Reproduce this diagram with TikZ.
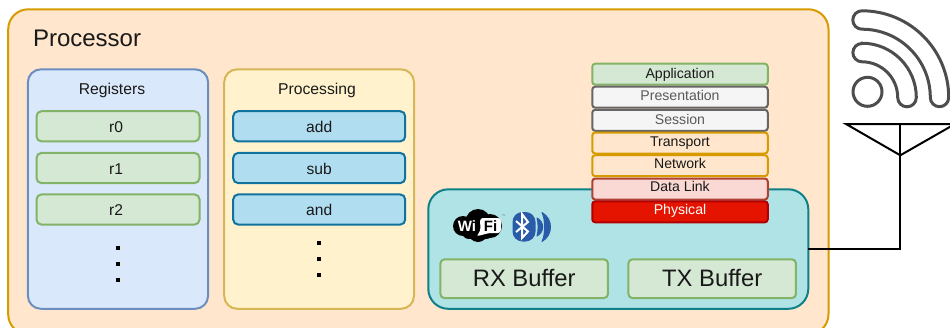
\documentclass[tikz,border=0pt]{standalone}
\usepackage{fontspec}
\setmainfont{Liberation Sans}
\definecolor{procfill}{HTML}{FFE6CC}
\definecolor{procline}{HTML}{D79B00}
\definecolor{regfill}{HTML}{DAE8FC}
\definecolor{regline}{HTML}{6C8EBF}
\definecolor{grfill}{HTML}{D5E8D4}
\definecolor{grline}{HTML}{82B366}
\definecolor{yefill}{HTML}{FFF2CC}
\definecolor{yeline}{HTML}{D6B656}
\definecolor{blfill}{HTML}{B1DDF0}
\definecolor{blline}{HTML}{10739E}
\definecolor{tefill}{HTML}{B0E3E6}
\definecolor{teline}{HTML}{0E8088}
\definecolor{gyfill}{HTML}{F5F5F5}
\definecolor{gyline}{HTML}{666666}
\definecolor{dlfill}{HTML}{FAD9D5}
\definecolor{dlline}{HTML}{AE4132}
\definecolor{phfill}{HTML}{E51400}
\definecolor{phline}{HTML}{B20000}
\definecolor{sigline}{HTML}{4D4D4D}
\definecolor{btblue}{HTML}{2A5BA8}
\tikzset{
  x=1pt,y=1pt,
  base/.style={draw,line width=2pt,rectangle,inner sep=0pt,outer sep=0pt,text=black!90},
  panel/.style={base,rounded corners=13pt,anchor=north west},
  item/.style={base,rounded corners=5pt,font=\fontsize{15.6}{15.6}\selectfont,text height=12pt,text depth=0pt,minimum height=30.2pt},
  regitem/.style={item,fill=grfill,draw=grline,minimum width=163pt},
  opitem/.style={item,fill=blfill,draw=blline,minimum width=172pt},
  buffer/.style={base,rounded corners=4pt,fill=grfill,draw=grline,font=\fontsize{23.8}{23.8}\selectfont,text height=15.8pt,text depth=0pt,minimum width=167.5pt,minimum height=38.7pt},
  osi/.style={base,rounded corners=3pt,font=\fontsize{14.1}{14.1}\selectfont,text height=6.4pt,text depth=0pt,minimum width=175.5pt,minimum height=21pt},
  dotmark/.style={fill=black,draw=none,rectangle,minimum size=4pt,inner sep=0pt},
  caption/.style={inner sep=0pt,outer sep=0pt,text=black!90},
  sig/.style={draw=sigline,line width=3pt},
  wire/.style={draw=black,line width=2pt}
}
\begin{document}
\begin{tikzpicture}
\clip (0,0) rectangle (950,-327);
% processor
\node[panel,fill=procfill,draw=procline,rounded corners=20pt,minimum width=820.3pt,minimum height=325pt] (proc) at (8.2,-9.3) {};
\node[caption,font=\fontsize{24}{24}\selectfont,anchor=base west] (proct) at (33,-46.3) {Processor};
% registers
\node[panel,fill=regfill,draw=regline,minimum width=180.2pt,minimum height=239.5pt] (regs) at (27.9,-69.3) {};
\node[caption,font=\fontsize{15.7}{15.7}\selectfont,anchor=base] (regt) at (112,-94.3) {Registers};
\node[regitem] (r0) at (118,-126.3) {r0\hspace*{4pt}};
\node[regitem] (r1) at (118,-168) {r1\hspace*{4pt}};
\node[regitem] (r2) at (118,-209.5) {r2\hspace*{4pt}};
\node[dotmark] (rd0) at (118,-247.7) {};
\node[dotmark] (rd1) at (118,-263.7) {};
\node[dotmark] (rd2) at (118,-279.7) {};
% processing
\node[panel,fill=yefill,draw=yeline,minimum width=189.8pt,minimum height=239.5pt] (pros) at (224.2,-69.3) {};
\node[caption,font=\fontsize{15.7}{15.7}\selectfont,anchor=base] (prost) at (317,-94.3) {Processing};
\node[opitem] (add) at (319.2,-126.3) {add};
\node[opitem] (sub) at (319.2,-168) {sub};
\node[opitem] (and) at (319.2,-209.5) {and};
\node[dotmark] (pd0) at (319,-243.3) {};
\node[dotmark] (pd1) at (319,-259.3) {};
\node[dotmark] (pd2) at (319,-275.3) {};
% network card
\node[panel,fill=tefill,draw=teline,rounded corners=20pt,minimum width=380pt,minimum height=119.5pt] (nic) at (428.3,-189.3) {};
\node[buffer] (rx) at (524.2,-278.7) {RX Buffer};
\node[buffer] (tx) at (712.2,-278.7) {TX Buffer};
% OSI
\node[osi,fill=grfill,draw=grline,text height=7.8pt] (l7) at (680,-74.2) {Application};
\node[osi,fill=gyfill,draw=gyline,text=black!65,text height=5.6pt] (l6) at (680,-97.2) {Presentation};
\node[osi,fill=gyfill,draw=gyline,text=black!65,text height=7.4pt] (l5) at (680,-120.3) {Session};
\node[osi,fill=procfill,draw=procline,text height=7.4pt] (l4) at (680,-143) {Transport};
\node[osi,fill=procfill,draw=procline,text height=5.2pt] (l3) at (680,-165.7) {Network};
\node[osi,fill=dlfill,draw=dlline,text height=5.4pt] (l2) at (680,-189) {Data Link};
\node[osi,fill=phfill,draw=phline,text=white,text height=5pt] (l1) at (680,-211.8) {Physical};
% wifi logo
\fill[black] (463,-226) circle[radius=10] (478,-221.5) circle[radius=12.5] (478,-232) circle[radius=10] (490,-226) circle[radius=12] (469,-232) circle[radius=7] (486,-232) circle[radius=7];
\fill[white,rounded corners=3pt] (480,-218) -- (501,-218) -- (501,-233) -- (489,-233) -- (476,-236.5) -- (480.5,-231) -- cycle;
\node[caption,text=white,font=\bfseries\fontsize{15}{15}\selectfont,anchor=base] (wi) at (467,-231) {Wi};
\node[caption,text=black,font=\bfseries\fontsize{15}{15}\selectfont,anchor=base] (fi) at (490.5,-231) {Fi};
\node[caption,text=black!50,font=\fontsize{4}{4}\selectfont] (tm) at (503.5,-216.5) {™};
% bluetooth logo
\fill[btblue,rounded corners=10pt] (512.5,-212) rectangle (535.5,-241.5);
\draw[white,line width=2pt,line join=miter] (516,-221) -- (528,-231.5) -- (522,-238) -- (522,-214) -- (528,-222) -- (516,-232);
\filldraw[btblue,line width=1pt,line join=round] (537,-218) .. controls (544.5,-222) and (544.5,-232) .. (537,-236) .. controls (538.5,-232) and (538.5,-222) .. (537,-218) -- cycle;
\filldraw[btblue,line width=1pt,line join=round] (542,-212.5) .. controls (553.3,-219) and (553.3,-235) .. (542,-241.5) .. controls (545.5,-235) and (545.5,-219) .. (542,-212.5) -- cycle;
% signal icon
\draw[sig] (867.5,-91.8) circle[radius=14.5];
\draw[sig] (862,-10.8) arc[start angle=90,end angle=0,radius=86.7]
  arc[start angle=0,end angle=-180,radius=9.2]
  arc[start angle=0,end angle=90,radius=68.3]
  arc[start angle=270,end angle=90,radius=9.2] -- cycle;
\draw[sig] (862,-43.2) arc[start angle=90,end angle=0,radius=54.3]
  arc[start angle=0,end angle=-180,radius=9.3]
  arc[start angle=0,end angle=90,radius=35.7]
  arc[start angle=270,end angle=90,radius=9.15] -- cycle;
% antenna
\coordinate (ant) at (900.3,-155.3);
\coordinate (antl) at (846,-124);
\coordinate (antr) at (955,-124);
\coordinate (antt) at (900.3,-124);
\coordinate (elbow) at (900.3,-248.7);
\draw[wire] (antl) -- (antr) -- (ant) -- cycle;
\draw[wire] (antt) -- (ant);
\draw[wire] (ant) -- (elbow) -- (nic.east |- elbow);
\end{tikzpicture}
\end{document}
